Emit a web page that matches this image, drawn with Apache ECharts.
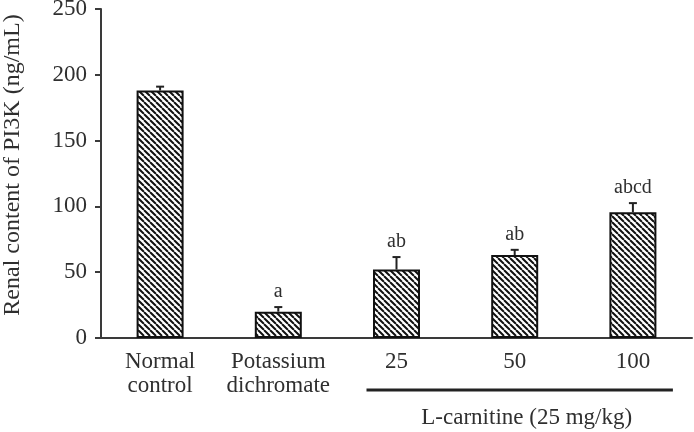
<!DOCTYPE html>
<html>
<head>
<meta charset="utf-8">
<script src="https://cdn.jsdelivr.net/npm/echarts@6/dist/echarts.min.js"></script>
<style>
html,body{margin:0;padding:0;background:#fff;}
#chart{width:694px;height:432px;}
</style>
</head>
<body>
<div id="chart"></div>
<script>
var categories = ['Normal\ncontrol', 'Potassium\ndichromate', '25', '50', '100'];
var values = [188, 20, 52, 63, 95.5];
var errors = [3, 3.5, 9.5, 4, 7];
var sigLabels = ['', 'a', 'ab', 'ab', 'abcd'];
var yTicks = {min: 0, max: 250, interval: 50};
var yName = 'Renal content of PI3K (ng/mL)';
var groupLabel = 'L-carnitine (25 mg/kg)';

var FONT = '"Liberation Serif", "DejaVu Serif", serif';
var TXT = '#2f2f2f';

function makeHatch() {
  var c = document.createElement('canvas');
  c.width = 6; c.height = 6;
  var ctx = c.getContext('2d');
  ctx.fillStyle = '#ffffff';
  ctx.fillRect(0, 0, 6, 6);
  ctx.strokeStyle = '#111111';
  ctx.lineWidth = 2;
  ctx.beginPath();
  [-6, 0, 6].forEach(function (k) {
    ctx.moveTo(k, 0);
    ctx.lineTo(k + 6, 6);
  });
  ctx.stroke();
  return c;
}

var chart = echarts.init(document.getElementById('chart'), null, {renderer: 'canvas'});

var errData = values.map(function (v, i) { return [i, v, v + errors[i], sigLabels[i]]; });

var option = {
  animation: false,
  backgroundColor: '#ffffff',
  grid: {left: 101, right: 2, top: 9, bottom: 94, containLabel: false, outerBoundsMode: 'none'},
  xAxis: {
    type: 'category',
    data: categories,
    axisLine: {show: true, lineStyle: {color: '#3a3a3a', width: 2}},
    axisTick: {show: false},
    axisLabel: {fontFamily: FONT, fontSize: 23, color: TXT, lineHeight: 24, margin: 12, interval: 0}
  },
  yAxis: {
    type: 'value',
    min: yTicks.min, max: yTicks.max, interval: yTicks.interval,
    name: yName,
    nameLocation: 'middle',
    nameRotate: 90,
    nameGap: 76,
    nameTextStyle: {fontFamily: FONT, fontSize: 24, color: TXT, padding: [0, 0, 0, 17]},
    splitLine: {show: false},
    axisLine: {show: true, lineStyle: {color: '#3a3a3a', width: 2}},
    axisTick: {show: true, inside: false, length: 6, lineStyle: {color: '#3a3a3a', width: 2}},
    axisLabel: {fontFamily: FONT, fontSize: 23, color: TXT, margin: 14}
  },
  series: [
    {
      type: 'bar',
      data: values,
      barWidth: 47,
      itemStyle: {
        color: {image: makeHatch(), repeat: 'repeat'},
        borderColor: '#111111',
        borderWidth: 2
      },
      z: 2
    },
    {
      type: 'custom',
      data: errData,
      z: 3,
      renderItem: function (params, api) {
        var x = api.value(0);
        var p0 = api.coord([x, api.value(1)]);
        var p1 = api.coord([x, api.value(2)]);
        var cap = 4;
        var children = [
          {type: 'line', shape: {x1: p0[0], y1: p0[1], x2: p1[0], y2: p1[1]}, style: {stroke: '#222', lineWidth: 2}},
          {type: 'line', shape: {x1: p1[0] - cap, y1: p1[1], x2: p1[0] + cap, y2: p1[1]}, style: {stroke: '#222', lineWidth: 2}}
        ];
        var lbl = sigLabels[params.dataIndex];
        if (lbl) {
          children.push({
            type: 'text',
            style: {
              text: lbl, x: p1[0], y: p1[1] - 5,
              textAlign: 'center', textVerticalAlign: 'bottom',
              font: '20px ' + FONT, fill: TXT
            }
          });
        }
        return {type: 'group', children: children};
      }
    }
  ]
};

chart.setOption(option);

var c25 = chart.convertToPixel({xAxisIndex: 0}, '25');
var c100 = chart.convertToPixel({xAxisIndex: 0}, '100');
var lineY = chart.convertToPixel({yAxisIndex: 0}, 0) + 52;
var x1 = c25 - 30, x2 = c100 + 40;
chart.setOption({
  graphic: [
    {type: 'line', shape: {x1: x1, y1: lineY, x2: x2, y2: lineY}, style: {stroke: '#222', lineWidth: 3}},
    {type: 'text', x: (x1 + x2) / 2 + 7, y: lineY + 28, style: {text: groupLabel, textAlign: 'center', textVerticalAlign: 'middle', font: '23px ' + FONT, fill: TXT}}
  ]
});
</script>
</body>
</html>
